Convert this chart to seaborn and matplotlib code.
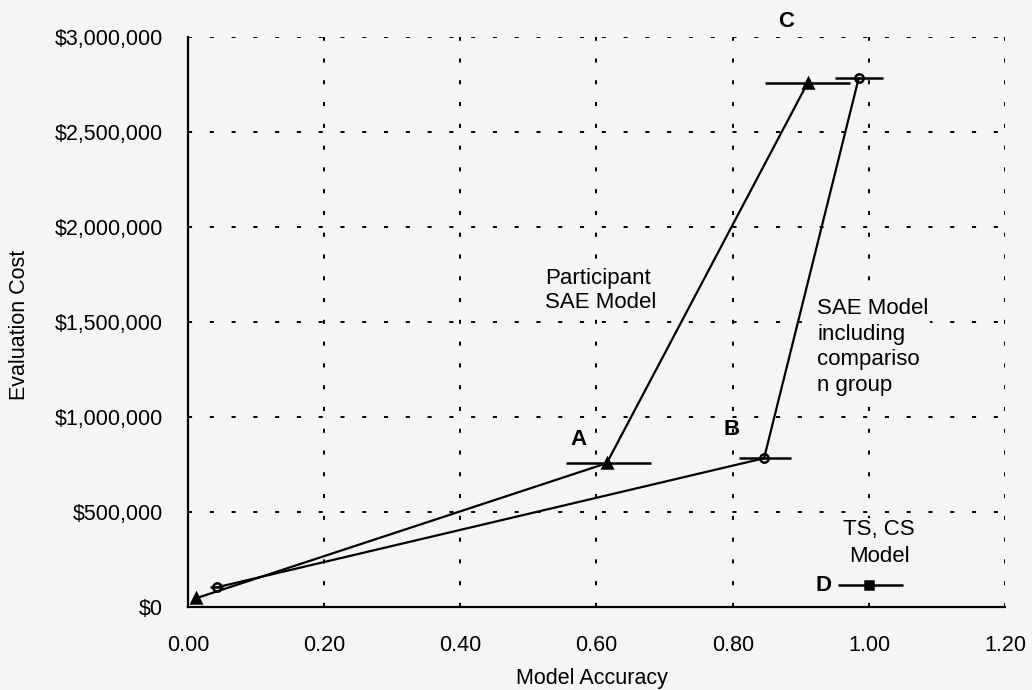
import matplotlib
matplotlib.use("Agg")
import matplotlib.pyplot as plt
from matplotlib.ticker import FuncFormatter, MultipleLocator
import pandas as pd
import seaborn as sns

# Participant SAE model (triangles): origin -> A -> C
participant_acc = [0.012, 0.615, 0.91]
participant_cost = [47000, 758000, 2760000]
participant_lo = [0.012, 0.555, 0.847]
participant_hi = [0.012, 0.68, 0.972]

# SAE model including comparison group (circles): origin -> B -> C
comparison_acc = [0.043, 0.846, 0.985]
comparison_cost = [105000, 784000, 2785000]
comparison_lo = [0.032, 0.809, 0.95]
comparison_hi = [0.051, 0.885, 1.02]

# TS, CS model (square): D
tscs_acc = [1.0]
tscs_cost = [116000]
tscs_lo = [0.955]
tscs_hi = [1.05]

point_labels = ["A", "B", "C", "D"]
point_label_pos = [(0.573, 884000), (0.799, 937000), (0.878, 3084000), (0.933, 112000)]

sns.set_style("white")
plt.rcParams['font.family'] = ['Liberation Sans', 'DejaVu Sans']
plt.rcParams['text.color'] = 'black'
plt.rcParams['axes.labelcolor'] = 'black'

bg = '#f5f5f5'
fig, ax = plt.subplots(figsize=(10.32, 6.9), dpi=100)
fig.patch.set_facecolor(bg)
ax.set_facecolor(bg)
fig.subplots_adjust(left=0.182, right=0.974, bottom=0.12, top=0.946)

series = [
    ("Participant SAE Model", participant_acc, participant_cost, participant_lo, participant_hi, "^", 7),
    ("SAE Model including comparison group", comparison_acc, comparison_cost, comparison_lo, comparison_hi, "o", 6),
    ("TS, CS Model", tscs_acc, tscs_cost, tscs_lo, tscs_hi, "s", 6),
]

for name, acc, cost, lo, hi, marker, ms in series:
    df = pd.DataFrame({"acc": acc, "cost": cost})
    sns.lineplot(data=df, x="acc", y="cost", sort=False, color="black", lw=1.6, ax=ax,
                 marker=marker, markersize=ms, markeredgecolor="black",
                 markerfacecolor="black" if marker != "o" else "none", markeredgewidth=1.8)
    xerr = [[a - l for a, l in zip(acc, lo)], [h - a for a, h in zip(acc, hi)]]
    ax.errorbar(acc, cost, xerr=xerr, fmt="none", ecolor="black", elinewidth=1.8, capsize=0)

ax.set_xlim(0, 1.2)
ax.set_ylim(0, 3000000)
ax.xaxis.set_major_locator(MultipleLocator(0.2))
ax.yaxis.set_major_locator(MultipleLocator(500000))
ax.xaxis.set_major_formatter(FuncFormatter(lambda v, p: f"{v:.2f}"))
ax.yaxis.set_major_formatter(FuncFormatter(lambda v, p: f"${v:,.0f}"))

# sparse dotted grid like the scanned original
ax.grid(False)
for xv in [0.2, 0.4, 0.6, 0.8, 1.0, 1.2]:
    ax.axvline(xv, color="black", lw=1.4, ls=(0, (2.1, 9.1)), zorder=0)
for yv in [500000, 1000000, 1500000, 2000000, 2500000, 3000000]:
    ax.axhline(yv, color="black", lw=1.4, ls=(0, (2.1, 9.1)), zorder=0)

for side in ["top", "right"]:
    ax.spines[side].set_visible(False)
for side in ["left", "bottom"]:
    ax.spines[side].set_color("black")
    ax.spines[side].set_linewidth(1.6)

ax.tick_params(axis="both", direction="inout", length=8, width=1.3, colors="black", labelsize=15.5)
ax.tick_params(axis="y", pad=14)
ax.tick_params(axis="x", pad=16)

ax.set_xlabel("Model Accuracy", fontsize=15.5, va="center")
ax.set_ylabel("Evaluation Cost", fontsize=15.5, va="center")
ax.xaxis.set_label_coords(0.494, -0.125)
ax.yaxis.set_label_coords(-0.206, 0.496)

for lab, (lx, ly) in zip(point_labels, point_label_pos):
    ax.text(lx, ly, lab, fontsize=16, fontweight="bold", ha="center", va="center", clip_on=False)

box = dict(facecolor=bg, edgecolor="none", pad=1)
ax.text(0.524, 1668000, "Participant\nSAE Model", fontsize=16, ha="left", va="center",
        linespacing=1.2, bbox=box, zorder=3)
ax.text(0.924, 1370000, "SAE Model\nincluding\ncompariso\nn group", fontsize=16, ha="left", va="center",
        linespacing=1.3, bbox=box, zorder=3)
ax.text(1.015, 337000, "TS, CS\nModel", fontsize=16, ha="center", va="center",
        linespacing=1.4, bbox=box, zorder=3)

fig.savefig("out.png", dpi=100, facecolor=fig.get_facecolor())
